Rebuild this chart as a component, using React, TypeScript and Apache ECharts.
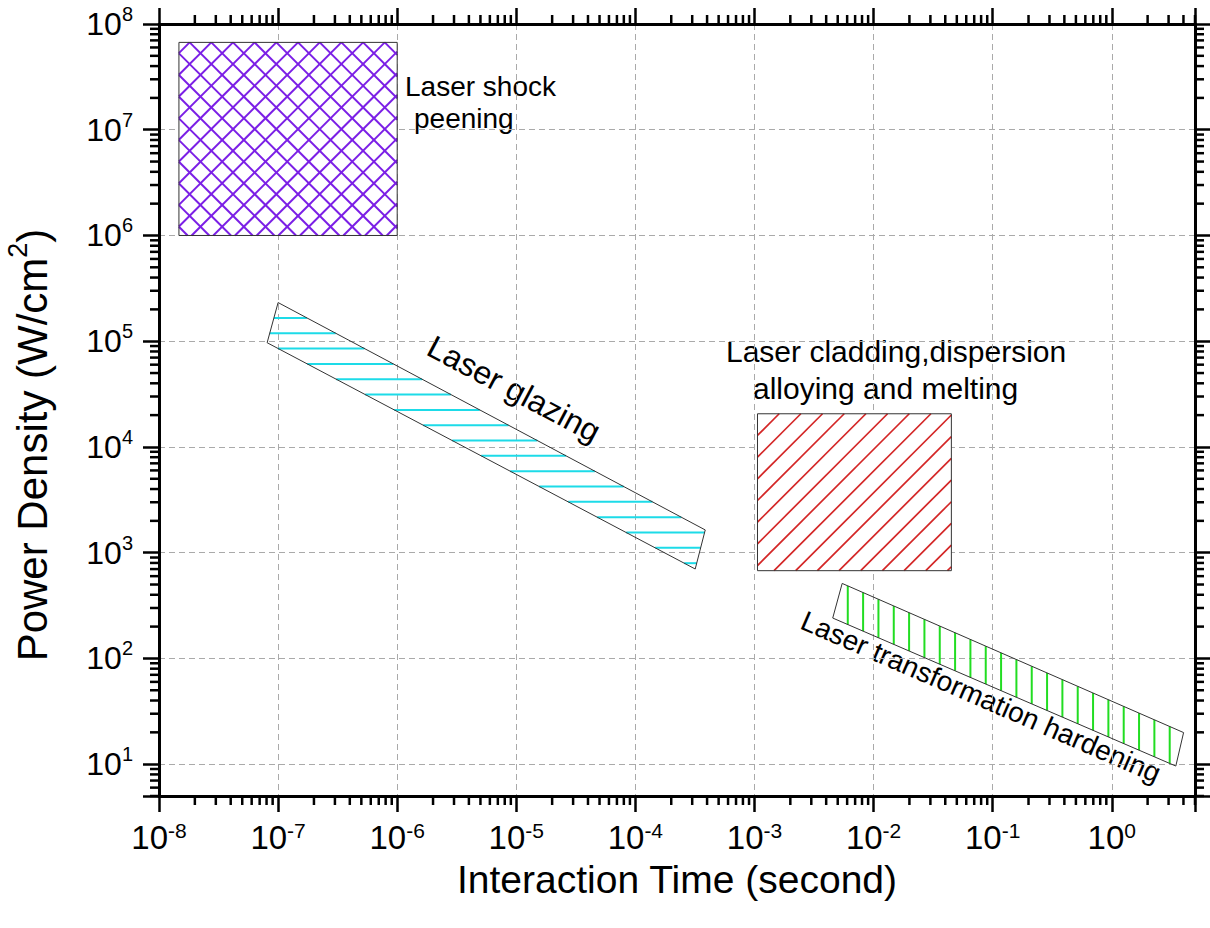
import React, { useEffect, useRef } from "react";
import * as echarts from "echarts";

const FONT = '"Liberation Sans", Arial, Helvetica, sans-serif';

// axis ranges
const X_MIN = 1e-8;
const X_MAX = 5;
const Y_MIN = 5;
const Y_MAX = 1e8;

// region outlines: interaction time (s) and power density (W/cm2), first vertex = upper-left
const shockPeeningX = [1.47e-8, 1.0e-6, 1.0e-6, 1.47e-8];
const shockPeeningY = [6.7e7, 6.7e7, 1.0e6, 1.0e6];

const glazingX = [1.0e-7, 3.86e-4, 3.18e-4, 8.09e-8];
const glazingY = [2.32e5, 1641, 701, 9.68e4];

const claddingX = [1.06e-3, 0.045, 0.045, 1.06e-3];
const claddingY = [2.06e4, 2.06e4, 676, 676];

const hardeningX = [5.45e-3, 4.01, 3.45, 4.54e-3];
const hardeningY = [512, 19.9, 9.6, 241];

// decades used for axis minor ticks
const xDecades = [-8, -7, -6, -5, -4, -3, -2, -1, 0];
const yDecades = [0, 1, 2, 3, 4, 5, 6, 7];
const minorMultipliers = [2, 3, 4, 5, 6, 7, 8, 9];

function hatchLines(
  pts: number[][],
  angleDeg: number,
  spacing: number,
  anchor: number[]
): number[][][] {
  const a = (angleDeg * Math.PI) / 180;
  const dx = Math.cos(a);
  const dy = -Math.sin(a);
  const nx = -dy;
  const ny = dx;
  const proj = pts.map((p) => p[0] * nx + p[1] * ny);
  const pmin = Math.min(...proj);
  const pmax = Math.max(...proj);
  const pa = anchor[0] * nx + anchor[1] * ny;
  const k0 = Math.ceil((pmin - pa) / spacing);
  const out: number[][][] = [];
  for (let p = pa + k0 * spacing; p < pmax - 0.5; p += spacing) {
    if (p <= pmin + 0.5) continue;
    const hits: number[][] = [];
    for (let i = 0; i < pts.length; i++) {
      const j = (i + 1) % pts.length;
      const na = proj[i];
      const nb = proj[j];
      if ((na - p) * (nb - p) <= 0 && na !== nb) {
        const t = (p - na) / (nb - na);
        hits.push([
          pts[i][0] + t * (pts[j][0] - pts[i][0]),
          pts[i][1] + t * (pts[j][1] - pts[i][1]),
        ]);
      }
    }
    if (hits.length < 2) continue;
    hits.sort((u, v) => u[0] * dx + u[1] * dy - (v[0] * dx + v[1] * dy));
    out.push([hits[0], hits[hits.length - 1]]);
  }
  return out;
}

type Hatch = {
  angles: number[];
  color: string;
  width: number;
  spacing: number;
  offset: number[];
  fill: string | null;
};

function shapeSeries(name: string, xs: number[], ys: number[], hatch: Hatch) {
  return {
    type: "custom",
    name,
    coordinateSystem: "cartesian2d",
    xAxisIndex: 0,
    yAxisIndex: 0,
    clip: false,
    silent: true,
    data: xs.map((x, i) => [x, ys[i]]),
    renderItem: (params: any, api: any) => {
      if (params.dataIndex !== 0) return null;
      const pts = xs.map((x, i) => api.coord([x, ys[i]]));
      const children: any[] = [];
      if (hatch.fill) {
        children.push({
          type: "polygon",
          shape: { points: pts },
          style: { fill: hatch.fill, stroke: null },
        });
      }
      const anchor = [pts[0][0] + hatch.offset[0], pts[0][1] + hatch.offset[1]];
      hatch.angles.forEach((ang) => {
        hatchLines(pts, ang, hatch.spacing, anchor).forEach((seg) => {
          children.push({
            type: "line",
            shape: { x1: seg[0][0], y1: seg[0][1], x2: seg[1][0], y2: seg[1][1] },
            style: { stroke: hatch.color, lineWidth: hatch.width, fill: null },
          });
        });
      });
      children.push({
        type: "polygon",
        shape: { points: pts },
        style: { fill: null, stroke: "#333", lineWidth: 1 },
      });
      return { type: "group", children };
    },
  };
}

const minorTickSeries = {
  type: "custom",
  name: "minor ticks",
  coordinateSystem: "cartesian2d",
  xAxisIndex: 0,
  yAxisIndex: 0,
  clip: false,
  silent: true,
  data: [[X_MIN, Y_MIN]],
  renderItem: (params: any, api: any) => {
    const cs = params.coordSys;
    const left = cs.x;
    const right = cs.x + cs.width;
    const top = cs.y;
    const bottom = cs.y + cs.height;
    const L = 9;
    const st = { stroke: "#000", lineWidth: 2.5 };
    const children: any[] = [];
    xDecades.forEach((e) => {
      minorMultipliers.forEach((m) => {
        const v = m * Math.pow(10, e);
        if (v > X_MAX) return;
        const px = api.coord([v, 100])[0];
        children.push({ type: "line", shape: { x1: px, y1: bottom, x2: px, y2: bottom + L }, style: st });
        children.push({ type: "line", shape: { x1: px, y1: top, x2: px, y2: top - L }, style: st });
      });
    });
    yDecades.forEach((e) => {
      minorMultipliers.forEach((m) => {
        const v = m * Math.pow(10, e);
        if (v < Y_MIN || v > Y_MAX) return;
        const py = api.coord([1e-3, v])[1];
        children.push({ type: "line", shape: { x1: left - L, y1: py, x2: left, y2: py }, style: st });
        children.push({ type: "line", shape: { x1: right, y1: py, x2: right + L, y2: py }, style: st });
      });
    });
    return { type: "group", children };
  },
};

function powLabel(v: number) {
  const e = Math.round(Math.log10(v));
  const p = Math.pow(10, e);
  if (Math.abs(v - p) / p > 1e-6) return "";
  return "{b|10}{s|" + e + "}";
}

const axisLine = { show: true, onZero: false, lineStyle: { color: "#000", width: 3 } };
const axisTick = { show: true, inside: false, length: 16, lineStyle: { color: "#000", width: 2.5 } };
const splitLine = { show: true, lineStyle: { color: "#aaa", width: 1, type: [6, 4] } };

export default function App() {
  const ref = useRef<HTMLDivElement>(null);
  useEffect(() => {
    document.body.style.margin = "0";
    if (!ref.current) return;
    const chart = echarts.init(ref.current, undefined, { renderer: "svg" });
    const option: any = {
      animation: false,
      backgroundColor: "#fff",
      textStyle: { fontFamily: FONT },
      grid: { left: 159, top: 24, right: 15, bottom: 132, containLabel: false, outerBoundsMode: "none" },
      xAxis: [
        {
          type: "log",
          logBase: 10,
          min: X_MIN,
          max: X_MAX,
          position: "bottom",
          axisLine,
          axisTick,
          splitLine,
          axisLabel: {
            margin: 24,
            color: "#000",
            fontFamily: FONT,
            formatter: powLabel,
            rich: {
              b: { fontSize: 33, lineHeight: 34, fontFamily: FONT, color: "#000" },
              s: { fontSize: 21, lineHeight: 21, verticalAlign: "top", fontFamily: FONT, color: "#000" },
            },
          },
          name: "Interaction Time (second)",
          nameLocation: "middle",
          nameGap: 65,
          nameMoveOverlap: false,
          nameTextStyle: { fontSize: 39, lineHeight: 36, fontFamily: FONT, color: "#000" },
        },
        {
          type: "log",
          logBase: 10,
          min: X_MIN,
          max: X_MAX,
          position: "top",
          axisLine,
          axisTick,
          splitLine: { show: false },
          axisLabel: { show: false },
        },
      ],
      yAxis: [
        {
          type: "log",
          logBase: 10,
          min: Y_MIN,
          max: Y_MAX,
          position: "left",
          axisLine,
          axisTick,
          splitLine,
          axisLabel: {
            margin: 26,
            color: "#000",
            fontFamily: FONT,
            formatter: powLabel,
            rich: {
              b: { fontSize: 32, lineHeight: 40, fontFamily: FONT, color: "#000" },
              s: { fontSize: 20, lineHeight: 20, verticalAlign: "top", fontFamily: FONT, color: "#000" },
            },
          },
          name: "Power Density (W/cm{sup|2})",
          nameLocation: "middle",
          nameGap: 99,
          nameMoveOverlap: false,
          nameTextStyle: {
            fontSize: 42,
            lineHeight: 56,
            fontFamily: FONT,
            color: "#000",
            padding: [0, 70, 0, 0],
            rich: {
              sup: { fontSize: 27, lineHeight: 27, verticalAlign: "top", fontFamily: FONT, color: "#000" },
            },
          },
        },
        {
          type: "log",
          logBase: 10,
          min: Y_MIN,
          max: Y_MAX,
          position: "right",
          axisLine,
          axisTick,
          splitLine: { show: false },
          axisLabel: { show: false },
        },
      ],
      series: [
        shapeSeries("Laser shock peening", shockPeeningX, shockPeeningY, {
          angles: [45, -45],
          color: "#7b1fe6",
          width: 2,
          spacing: 15.33,
          offset: [10.7, 0],
          fill: "#fff",
        }),
        shapeSeries("Laser glazing", glazingX, glazingY, {
          angles: [0],
          color: "#1ddbe8",
          width: 2,
          spacing: 15.33,
          offset: [0, 0],
          fill: null,
        }),
        shapeSeries("Laser cladding, dispersion alloying and melting", claddingX, claddingY, {
          angles: [45],
          color: "#d42626",
          width: 1.7,
          spacing: 15.33,
          offset: [0, 0],
          fill: "#fff",
        }),
        shapeSeries("Laser transformation hardening", hardeningX, hardeningY, {
          angles: [90],
          color: "#22dd22",
          width: 2,
          spacing: 15.33,
          offset: [5.6, 0],
          fill: null,
        }),
        minorTickSeries,
      ],
      graphic: [
        { type: "text", x: 405, y: 86, style: { text: "Laser shock", fontSize: 28, fontFamily: FONT, fill: "#000", align: "left", verticalAlign: "middle" } },
        { type: "text", x: 414, y: 118, style: { text: "peening", fontSize: 28, fontFamily: FONT, fill: "#000", align: "left", verticalAlign: "middle" } },
        { type: "text", x: 726, y: 351, style: { text: "Laser cladding,dispersion", fontSize: 30, fontFamily: FONT, fill: "#000", align: "left", verticalAlign: "middle" } },
        { type: "text", x: 753, y: 388, style: { text: "alloying and melting", fontSize: 30, fontFamily: FONT, fill: "#000", align: "left", verticalAlign: "middle" } },
        { type: "text", x: 514, y: 389, rotation: (-28 * Math.PI) / 180, style: { text: "Laser glazing", fontSize: 32, fontFamily: FONT, fill: "#000", align: "center", verticalAlign: "middle" } },
        { type: "text", x: 981, y: 697, rotation: (-23.5 * Math.PI) / 180, style: { text: "Laser transformation hardening", fontSize: 28, fontFamily: FONT, fill: "#000", align: "center", verticalAlign: "middle" } },
      ],
    };
    chart.setOption(option);
    return () => {
      chart.dispose();
    };
  }, []);
  return <div ref={ref} style={{ width: 1210, height: 928 }} />;
}
